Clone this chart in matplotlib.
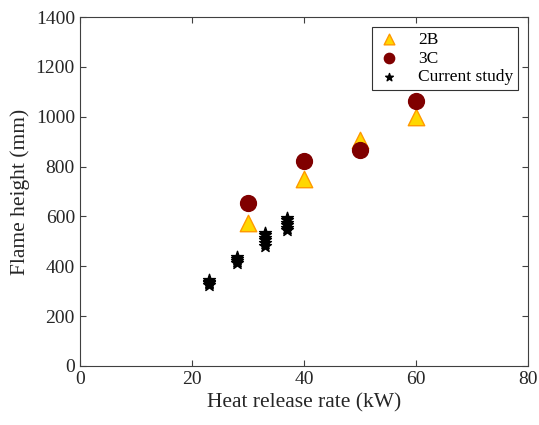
import matplotlib
matplotlib.use("Agg")
import matplotlib.pyplot as plt

plt.rcParams['font.family'] = ['Liberation Serif', 'DejaVu Serif']

# data
hrr_2b = [30, 40, 50, 60]
flame_2b = [572, 748, 907, 1000]

hrr_3c = [30, 40, 50, 60]
flame_3c = [655, 822, 866, 1062]

hrr_cur = [23, 23, 23, 23, 28, 28, 28, 28,
           33, 33, 33, 33, 33, 33, 37, 37, 37, 37, 37, 37]
flame_cur = [325, 332, 338, 344, 412, 420, 428, 436,
             482, 495, 505, 515, 525, 535, 545, 555, 565, 575, 585, 595]

fig = plt.figure(figsize=(5.39, 4.25), dpi=100)
ax = fig.add_axes([0.148, 0.139, 0.832, 0.821])

ax.scatter(hrr_2b, flame_2b, marker='^', s=140, c='#ffd700',
           edgecolors='#ff9900', linewidths=1, label='2B', zorder=3)
ax.scatter(hrr_3c, flame_3c, marker='o', s=130, c='#800000',
           edgecolors='#800000', label='3C', zorder=3)
ax.scatter(hrr_cur, flame_cur, marker='*', s=80, c='black',
           label='Current study', zorder=4)

ax.set_xlim(0, 80)
ax.set_ylim(0, 1400)
ax.set_xticks([0, 20, 40, 60, 80])
ax.set_yticks(range(0, 1401, 200))
ax.tick_params(direction='in', top=True, right=True, labelsize=14,
               length=4, colors='#404040', labelcolor='#262626')
for sp in ax.spines.values():
    sp.set_color('#404040')
ax.set_xlabel('Heat release rate (kW)', fontsize=15.5, color='#262626')
ax.set_ylabel('Flame height (mm)', fontsize=15.5, color='#262626')

leg = ax.legend(loc='upper right', fontsize=12.5, fancybox=False,
                edgecolor='#333333', framealpha=1, borderaxespad=0.6,
                handlelength=1.4, handletextpad=1.0, labelspacing=0.15,
                scatterpoints=1, markerscale=0.65, borderpad=0.25)
leg.get_frame().set_linewidth(0.8)

fig.savefig('out.png', dpi=100)
